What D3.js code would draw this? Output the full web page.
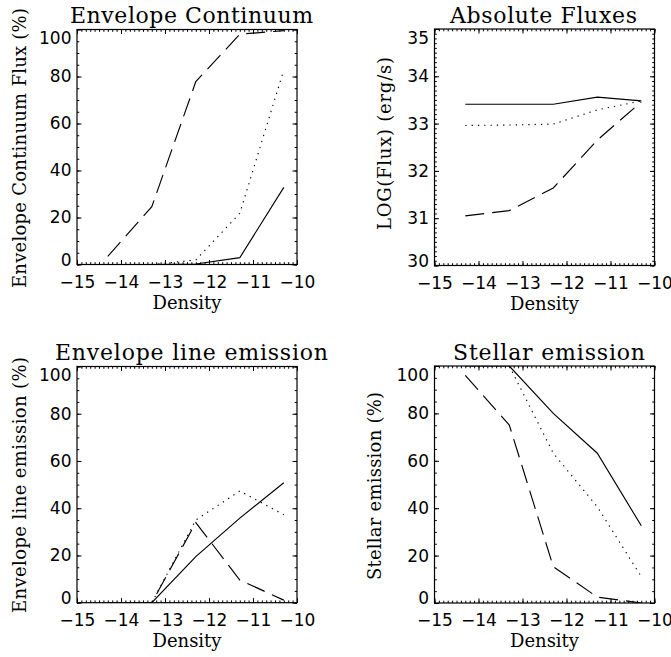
<!DOCTYPE html>
<html>
<head>
<meta charset="utf-8">
<script src="https://cdn.jsdelivr.net/npm/d3@7"></script>
<style>
  html, body { margin: 0; padding: 0; background: #fff; }
  svg { display: block; }
</style>
</head>
<body>
<svg id="chart" width="671" height="657"></svg>
<script>
// ---------------- data ----------------
const density = [-14.3, -13.3, -12.3, -11.3, -10.3];
const xTickValues = [-15, -14, -13, -12, -11, -10];
const percentTicks = [0, 20, 40, 60, 80, 100];
const fluxTicks = [30, 31, 32, 33, 34, 35];

// Envelope Continuum (%)
const contSolid  = [0, 0, 0.2, 2.9, 32.8];
const contDotted = [0, 0, 1.9, 21.8, 82.8];
const contDashed = [3.5, 24.6, 77.8, 98.0, 99.5];

// Absolute Fluxes LOG(erg/s)
const fluxSolid  = [33.41, 33.41, 33.41, 33.56, 33.48];
const fluxDotted = [32.96, 32.97, 32.99, 33.29, 33.48];
const fluxDashed = [31.05, 31.16, 31.64, 32.65, 33.46];

// Envelope line emission (%)
const lineSolid  = [0, 0, 19.5, 35.8, 50.8];
const lineDotted = [0, 0, 35.0, 47.3, 37.2];
const lineDashed = [0, 0, 33.9, 9.6, 1.1];

// Stellar emission (%)
const starSolid  = [100, 100, 80.0, 63.2, 32.6];
const starDotted = [100, 100, 63.2, 40.6, 11.1];
const starDashed = [96, 75.1, 15.3, 2.5, 0];

const titles = ["Envelope Continuum", "Absolute Fluxes", "Envelope line emission", "Stellar emission"];
const yLabels = ["Envelope Continuum Flux (%)", "LOG(Flux) (erg/s)", "Envelope line emission (%)", "Stellar emission (%)"];
const xLabel = "Density";

// ---------------- layout ----------------
const svg = d3.select("#chart");
const panels = [
  {box: [77, 297, 29.5, 264.5], yDomain: [0, 100], yTicks: percentTicks, yMinorStep: 5,
   series: [contSolid, contDotted, contDashed], title: titles[0], ylab: yLabels[0],
   titleX: 70, titleW: 243, ylabX: 26, ylabY: 148, ylabW: 280},
  {box: [434.5, 654.5, 29, 265.5], yDomain: [30, 35], yTicks: fluxTicks, yMinorStep: 0.1,
   series: [fluxSolid, fluxDotted, fluxDashed], title: titles[1], ylab: yLabels[1],
   titleX: 450, titleW: 187, ylabX: 391, ylabY: 143.5, ylabW: 173},
  {box: [77, 297, 366.5, 602.7], yDomain: [0, 100], yTicks: percentTicks, yMinorStep: 5,
   series: [lineSolid, lineDotted, lineDashed], title: titles[2], ylab: yLabels[2],
   titleX: 55, titleW: 273, ylabX: 26, ylabY: 485, ylabW: 256},
  {box: [434.5, 654.5, 366, 603], yDomain: [0, 100], yTicks: percentTicks, yMinorStep: 5,
   series: [starSolid, starDotted, starDashed], title: titles[3], ylab: yLabels[3],
   titleX: 453, titleW: 192, ylabX: 381, ylabY: 486, ylabW: 188}
];
const styles = [null, "1.3,5", "19,8"];

function range(a, b, step) {
  const out = [];
  const n = Math.round((b - a) / step);
  for (let i = 0; i <= n; i++) out.push(+(a + i * step).toFixed(6));
  return out;
}

const defs = svg.append("defs");

panels.forEach((p, i) => {
  const [x0, x1, y0, y1] = p.box;
  const x = d3.scaleLinear().domain([-15, -10]).range([x0, x1]);
  const y = d3.scaleLinear().domain(p.yDomain).range([y1, y0]);
  const g = svg.append("g");

  defs.append("clipPath").attr("id", "clip" + i)
    .append("rect").attr("x", x0).attr("y", y0).attr("width", x1 - x0).attr("height", y1 - y0);

  const xMinor = range(-15, -10, 0.1);
  const yMinor = range(p.yDomain[0], p.yDomain[1], p.yMinorStep);
  const MAJ = 4.5, MIN = 2.3;

  const bottom = g.append("g").attr("transform", `translate(0,${y1})`)
    .call(d3.axisBottom(x).tickValues(xTickValues).tickSizeInner(-MAJ).tickSizeOuter(0)
      .tickPadding(11).tickFormat(d => d3.format("d")(d).replace("-", "\u2212")));
  g.append("g").attr("transform", `translate(0,${y1})`)
    .call(d3.axisBottom(x).tickValues(xMinor).tickSizeInner(-MIN).tickSizeOuter(0).tickFormat(""));
  g.append("g").attr("transform", `translate(0,${y0})`)
    .call(d3.axisTop(x).tickValues(xTickValues).tickSizeInner(-MAJ).tickSizeOuter(0).tickFormat(""));
  g.append("g").attr("transform", `translate(0,${y0})`)
    .call(d3.axisTop(x).tickValues(xMinor).tickSizeInner(-MIN).tickSizeOuter(0).tickFormat(""));
  const left = g.append("g").attr("transform", `translate(${x0},0)`)
    .call(d3.axisLeft(y).tickValues(p.yTicks).tickSizeInner(-MAJ).tickSizeOuter(0)
      .tickPadding(5.5).tickFormat(d3.format("d")));
  g.append("g").attr("transform", `translate(${x0},0)`)
    .call(d3.axisLeft(y).tickValues(yMinor).tickSizeInner(-MIN).tickSizeOuter(0).tickFormat(""));
  g.append("g").attr("transform", `translate(${x1},0)`)
    .call(d3.axisRight(y).tickValues(p.yTicks).tickSizeInner(-MAJ).tickSizeOuter(0).tickFormat(""));
  g.append("g").attr("transform", `translate(${x1},0)`)
    .call(d3.axisRight(y).tickValues(yMinor).tickSizeInner(-MIN).tickSizeOuter(0).tickFormat(""));

  g.append("rect").attr("x", x0).attr("y", y0).attr("width", x1 - x0).attr("height", y1 - y0)
    .attr("fill", "none").attr("stroke", "#000").attr("stroke-width", 1.2);

  g.selectAll(".domain").remove();
  g.selectAll(".tick line").attr("stroke", "#000").attr("stroke-width", 1);

  bottom.selectAll("text").attr("font-family", "DejaVu Sans").attr("font-size", 17).attr("fill", "#000");
  left.selectAll("text").attr("font-family", "DejaVu Sans").attr("font-size", 17).attr("fill", "#000");
  left.selectAll(".tick text").attr("dy", (d) => {
    if (d === p.yDomain[1]) return "0.85em";
    if (d === p.yDomain[0]) return "0.05em";
    return "0.32em";
  });

  const line = d3.line().x((d, k) => x(density[k])).y(d => y(d));
  p.series.forEach((s, k) => {
    g.append("path").datum(s).attr("d", line)
      .attr("clip-path", `url(#clip${i})`)
      .attr("fill", "none").attr("stroke", "#000").attr("stroke-width", 1.15)
      .attr("stroke-dasharray", styles[k]);
  });

  g.append("text").attr("x", p.titleX).attr("y", y0 - 6.5)
    .attr("font-family", "DejaVu Serif").attr("font-size", 22)
    .attr("textLength", p.titleW).attr("lengthAdjust", "spacing")
    .text(p.title);
  g.append("text").attr("x", (x0 + x1) / 2).attr("y", y1 + 44)
    .attr("text-anchor", "middle").attr("font-family", "DejaVu Serif").attr("font-size", 18)
    .text(xLabel);
  g.append("text").attr("transform", `translate(${p.ylabX},${p.ylabY + p.ylabW / 2}) rotate(-90)`)
    .attr("font-family", "DejaVu Serif").attr("font-size", 18)
    .attr("textLength", p.ylabW).attr("lengthAdjust", "spacing")
    .text(p.ylab);
});
</script>
</body>
</html>
